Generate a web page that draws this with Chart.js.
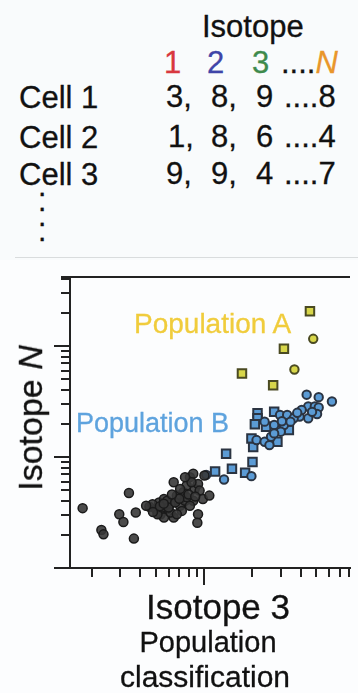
<!DOCTYPE html>
<html>
<head>
<meta charset="utf-8">
<script src="https://cdn.jsdelivr.net/npm/chart.js@4.4.0/dist/chart.umd.min.js"></script>
<style>
  html, body { margin: 0; padding: 0; background: #f9fbfc; }
  body { width: 358px; height: 693px; position: relative; overflow: hidden;
         font-family: "Liberation Sans", Arial, Helvetica, sans-serif; color: #111; }
  .t { position: absolute; white-space: nowrap; line-height: 1; -webkit-text-stroke: 0.3px currentColor; }
  #sep { position: absolute; left: 15px; top: 257px; width: 343px; height: 1px; background: #d9dcdd; }
  #plot { position: absolute; left: 0; top: 260px; width: 358px; height: 433px; background: #fcfdfe; }
</style>
</head>
<body>
<!-- table of isotope counts per cell -->
<div class="t" style="left:202px; top:11px; font-size:31px;">Isotope</div>
<div class="t" style="left:164px; top:47px; font-size:31px; color:#d8383f;">1</div>
<div class="t" style="left:207px; top:47px; font-size:31px; color:#3f45a8;">2</div>
<div class="t" style="left:252px; top:47px; font-size:31px; color:#3e8a4c;">3</div>
<div class="t" style="left:281px; top:47px; font-size:31px;">....<i style="color:#e9962b;">N</i></div>

<div class="t" style="left:19px; top:82px; font-size:31px;">Cell 1</div>
<div class="t" style="left:19px; top:122px; font-size:31px;">Cell 2</div>
<div class="t" style="left:19px; top:159px; font-size:31px;">Cell 3</div>

<div class="t" style="left:166px; top:81px; font-size:31px;">3,</div>
<div class="t" style="left:211px; top:81px; font-size:31px;">8,</div>
<div class="t" style="left:256px; top:81px; font-size:31px;">9</div>
<div class="t" style="left:284px; top:81px; font-size:31px;">....8</div>

<div class="t" style="left:168px; top:121px; font-size:31px;">1,</div>
<div class="t" style="left:211px; top:121px; font-size:31px;">8,</div>
<div class="t" style="left:256px; top:121px; font-size:31px;">6</div>
<div class="t" style="left:284px; top:121px; font-size:31px;">....4</div>

<div class="t" style="left:166px; top:158px; font-size:31px;">9,</div>
<div class="t" style="left:211px; top:158px; font-size:31px;">9,</div>
<div class="t" style="left:256px; top:158px; font-size:31px;">4</div>
<div class="t" style="left:284px; top:158px; font-size:31px;">....7</div>

<div class="t" style="left:38px; top:178px; font-size:30px; line-height:15px; white-space:pre;">.
.
.
.</div>

<div id="sep"></div>

<div id="plot"><canvas id="scatter"></canvas></div>

<!-- annotations and axis titles -->
<div class="t" style="left:134px; top:310px; font-size:28px; color:#f0cc3c;">Population A</div>
<div class="t" style="left:76px; top:410px; font-size:27px; color:#5ea3de;">Population B</div>
<div class="t" style="left:30px; top:418px; font-size:34px; transform:translate(-50%,-50%) rotate(-90deg);">Isotope <i>N</i></div>
<div class="t" style="left:218px; top:589px; font-size:35px; transform:translateX(-50%);">Isotope 3</div>
<div class="t" style="left:208px; top:628px; font-size:29px; transform:translateX(-50%);">Population</div>
<div class="t" style="left:205px; top:662px; font-size:30px; transform:translateX(-50%);">classification</div>

<script>
// axis ranges (log scales)
const xMin = 1.46, xMax = 81
const yMin = 1, yMax = 418
// tick marks
const xTicks = [2, 3, 4, 5, 6, 7, 8, 9, 10, 20, 30, 40, 50, 60, 70, 80]
const xMajor = [10]
const yTicks = [1, 2, 3, 4, 5, 6, 7, 8, 9, 10, 20, 30, 40, 50, 60, 70, 80, 90, 100, 200, 300, 400]
const yMajor = [1, 10, 100]

// unclassified cells (grey)
const grayX = [1.75, 2.29, 2.36, 3.65, 2.96, 3.14, 3.40, 3.75, 4.56, 5.0, 5.24, 5.62, 5.36, 5.89, 6.17, 6.46, 6.46, 6.76, 7.08, 7.26, 7.43, 7.60, 7.78, 8.15, 8.55, 8.73, 9.16, 9.37, 9.82, 8.55, 9.16, 9.07, 10.77, 10.04, 5.62, 4.77, 4.35, 6.17, 6.76, 7.78, 8.15, 5.12, 5.48, 5.89, 7.08, 8.34, 7.60, 4.8, 5.3, 6.0, 6.6, 7.0, 8.0, 8.8, 6.3, 5.6]
const grayY = [3.46, 2.20, 2.01, 1.84, 3.05, 2.60, 4.73, 3.16, 3.56, 3.39, 3.90, 4.18, 3.05, 3.39, 3.76, 2.85, 5.93, 4.49, 3.64, 3.27, 4.81, 4.04, 5.53, 6.58, 7.05, 5.15, 5.71, 4.98, 4.18, 4.04, 3.05, 2.56, 4.49, 6.82, 2.85, 3.76, 3.64, 3.16, 3.05, 4.33, 3.64, 3.05, 3.51, 4.04, 5.15, 5.93, 6.58, 3.2, 3.6, 3.5, 3.9, 4.2, 4.6, 4.4, 4.6, 3.8]

// population B (blue)
const bSqX = [21.5, 21.5, 20.7, 19.7, 20.2, 27.3, 24.3, 33.7, 13.7, 20.0, 11.7, 14.9, 18.0, 28.6]
const bSqY = [24.8, 22.3, 19.7, 14.7, 12.3, 25.6, 18.7, 17.5, 10.7, 9.0, 7.41, 7.83, 7.2, 13.7]
const bCiX = [43.5, 51.7, 62.5, 44.5, 48.9, 51.7, 50.5, 44.5, 29.7, 32.9, 39.3, 36.1, 23.8, 27.3, 31.4, 34.5, 30.0, 21.2, 23.8, 25.5, 26.1, 27.3, 13.3, 19.7, 10.3, 40.5, 47.0, 38.0, 30.5]
const bCiY = [36.4, 34.6, 31.6, 28.5, 28.5, 27.9, 24.4, 22.3, 23.9, 23.9, 23.1, 22.3, 20.8, 19.4, 19.4, 20.8, 16.9, 14.2, 13.7, 12.8, 15.2, 16.3, 6.27, 6.72, 6.9, 26.5, 25.5, 25.0, 21.0]

// population A (yellow)
const aSqX = [45.6, 31.4, 17.2, 26.9]
const aSqY = [205, 94.4, 56.5, 44.2]
const aCiX = [47.8, 36.5]
const aCiY = [116, 61.4]

function pts(xs, ys) {
    return xs.map(function (x, i) { return { x: x, y: ys[i] } })
}

// outward tick marks, long for decades
const tickPlugin = {
    id: 'outerTicks',
    afterDraw: function (chart) {
        var ctx = chart.ctx
        var area = chart.chartArea
        var xs = chart.scales.x
        var ys = chart.scales.y
        ctx.save()
        ctx.strokeStyle = '#222'
        ctx.lineWidth = 2
        ctx.beginPath()
        xTicks.forEach(function (v) {
            var px = Math.round(xs.getPixelForValue(v))
            var len = xMajor.indexOf(v) >= 0 ? 17 : 9
            ctx.moveTo(px, area.bottom)
            ctx.lineTo(px, area.bottom + len)
        })
        yTicks.forEach(function (v) {
            var py = Math.round(ys.getPixelForValue(v))
            var len = yMajor.indexOf(v) >= 0 ? 16 : 9
            ctx.moveTo(area.left, py)
            ctx.lineTo(area.left - len, py)
        })
        // top frame line
        ctx.moveTo(area.left - 9, area.top)
        ctx.lineTo(area.right, area.top)
        ctx.stroke()
        ctx.restore()
    }
}

var ctx = document.getElementById('scatter').getContext('2d')
new Chart(ctx, {
    type: 'scatter',
    data: {
        datasets: [
            {
                data: pts(grayX, grayY),
                pointStyle: 'circle',
                pointRadius: 4.5,
                backgroundColor: 'rgba(55,55,55,0.9)',
                borderColor: '#1a1a1a',
                borderWidth: 1.5
            },
            {
                data: pts(bCiX, bCiY),
                pointStyle: 'circle',
                pointRadius: 4.2,
                backgroundColor: '#5b9bd5',
                borderColor: '#2b3442',
                borderWidth: 2
            },
            {
                data: pts(bSqX, bSqY),
                pointStyle: 'rect',
                pointRadius: 6,
                backgroundColor: '#5b9bd5',
                borderColor: '#2b3442',
                borderWidth: 2
            },
            {
                data: pts(aCiX, aCiY),
                pointStyle: 'circle',
                pointRadius: 4.2,
                backgroundColor: '#d7d64a',
                borderColor: '#4a4a22',
                borderWidth: 2
            },
            {
                data: pts(aSqX, aSqY),
                pointStyle: 'rect',
                pointRadius: 6,
                backgroundColor: '#d7d64a',
                borderColor: '#4a4a22',
                borderWidth: 2
            }
        ]
    },
    options: {
        responsive: true,
        maintainAspectRatio: false,
        animation: false,
        layout: { padding: { left: 62, top: 17, right: 0, bottom: 117 } },
        plugins: { legend: { display: false }, tooltip: { enabled: false } },
        scales: {
            x: {
                type: 'logarithmic',
                min: xMin,
                max: xMax,
                ticks: { display: false },
                grid: { display: false },
                border: { display: true, color: '#222', width: 2 }
            },
            y: {
                type: 'logarithmic',
                min: yMin,
                max: yMax,
                ticks: { display: false },
                grid: { display: false },
                border: { display: true, color: '#222', width: 2 }
            }
        }
    },
    plugins: [tickPlugin]
})
</script>
</body>
</html>
